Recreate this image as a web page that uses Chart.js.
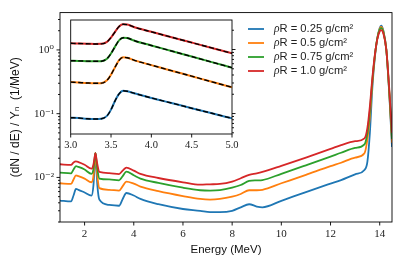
<!DOCTYPE html>
<html><head><meta charset="utf-8">
<script src="https://cdn.jsdelivr.net/npm/chart.js@4"></script>
<style>
html,body{margin:0;padding:0;background:#fff;}
#wrap{position:relative;width:403px;height:269px;overflow:hidden;}
#main{position:absolute;left:0;top:0;width:403px;height:269px;}
#inset{position:absolute;left:50px;top:10px;width:205px;height:145px;}
</style></head><body>
<div id="wrap"><canvas id="main" width="403" height="269"></canvas><canvas id="inset" width="205" height="145"></canvas></div>
<script>
// ---------- main data ----------
const energy = [1.0,1.45,1.55,1.65,1.75,2.0,2.28,2.36,2.41,2.44,2.47,2.52,2.6,3.0,3.4,3.55,3.7,4.0,4.27,5.0,6.0,6.7,7.1,7.5,8.0,8.35,8.69,9.0,9.23,10,11,12,12.43,13.0,13.38,13.5,13.6,13.7,13.8,13.9,14.0,14.06,14.15,14.27,14.4,14.5,14.6];
const rho025 = [0.00434,0.0042,0.0052,0.0066,0.0064,0.0058,0.0052,0.0075,0.016,0.024,0.016,0.0075,0.0045,0.0037,0.0036,0.0046,0.0057,0.0052,0.0046,0.0038,0.0032,0.0030,0.00286,0.00286,0.0030,0.0034,0.0038,0.0035,0.0034,0.0043,0.0059,0.0080,0.0091,0.0112,0.0131,0.0177,0.05,0.25,0.75,1.5,2.2,2.41,2.0,1.0,0.17,0.03,0.004];
const rho05 = [0.0081,0.0079,0.0093,0.0108,0.0105,0.0096,0.0084,0.0105,0.018,0.024,0.018,0.0105,0.0068,0.0064,0.0062,0.0073,0.0086,0.0080,0.0072,0.0061,0.0051,0.0046,0.0045,0.0046,0.0050,0.0055,0.0063,0.0063,0.0064,0.0081,0.0110,0.0150,0.0170,0.0205,0.0239,0.04,0.09,0.30,0.78,1.5,2.15,2.3,1.95,1.0,0.18,0.035,0.006];
const rho075 = [0.0119,0.0116,0.0133,0.0150,0.0146,0.0133,0.0114,0.0135,0.020,0.024,0.020,0.0135,0.0096,0.0093,0.0090,0.0105,0.0123,0.0108,0.0096,0.0082,0.0069,0.0063,0.0062,0.0063,0.0069,0.0076,0.0088,0.0090,0.0091,0.0114,0.0155,0.0212,0.0244,0.029,0.033,0.05,0.11,0.33,0.8,1.5,2.08,2.2,1.9,1.0,0.19,0.04,0.008];
const rho10 = [0.0161,0.0157,0.0172,0.0178,0.0174,0.0158,0.0137,0.0160,0.021,0.024,0.021,0.016,0.0122,0.0117,0.0113,0.0128,0.0143,0.0128,0.0114,0.0098,0.0084,0.0077,0.0078,0.0079,0.0086,0.0097,0.0110,0.0116,0.0122,0.0152,0.0205,0.0280,0.0322,0.037,0.041,0.06,0.13,0.36,0.82,1.45,1.95,2.05,1.8,1.0,0.21,0.05,0.01];

// ---------- inset data ----------
const insetEnergy = [3.0,3.1,3.2,3.3,3.38,3.45,3.5,3.55,3.6,3.65,3.7,3.8,4.0,4.25,4.5,4.75,5.0];
const inset025 = [0.086,0.085,0.083,0.082,0.083,0.092,0.115,0.158,0.203,0.227,0.223,0.205,0.175,0.146,0.121,0.101,0.084];
const inset05 = [0.31,0.305,0.30,0.297,0.298,0.33,0.405,0.53,0.68,0.755,0.745,0.67,0.571,0.467,0.383,0.313,0.257];
const inset075 = [0.668,0.664,0.658,0.655,0.657,0.718,0.867,1.11,1.39,1.53,1.51,1.36,1.157,0.948,0.777,0.636,0.52];
const inset10 = [1.25,1.24,1.23,1.22,1.225,1.318,1.54,1.89,2.29,2.48,2.45,2.21,1.89,1.557,1.284,1.058,0.87];

// ---------- labels / ticks ----------
const seriesLabels = ['ρR = 0.25 g/cm²','ρR = 0.5 g/cm²','ρR = 0.75 g/cm²','ρR = 1.0 g/cm²'];
const seriesColors = ['#1f77b4','#ff7f0e','#2ca02c','#d62728'];
const xTicks = [2,4,6,8,10,12,14];
const yMajorTicks = [0.01,0.1,1];
const yMajorLabels = ['10⁻²','10⁻¹','10⁰'];
const yMinorTicks = [0.002,0.003,0.004,0.005,0.006,0.007,0.008,0.009,0.02,0.03,0.04,0.05,0.06,0.07,0.08,0.09,0.2,0.3,0.4,0.5,0.6,0.7,0.8,0.9,2,3];
const insetXTicks = [3.0,3.5,4.0,4.5,5.0];
const insetYMajor = [0.1,1];
const insetYMinor = [0.05,0.06,0.07,0.08,0.09,0.2,0.3,0.4,0.5,0.6,0.7,0.8,0.9,2];

const SERIF = '"Liberation Serif","DejaVu Serif",serif';
const SANS = '"Liberation Sans","DejaVu Sans",sans-serif';

function pts(xs, ys){ return xs.map((x,i)=>({x:x, y:ys[i]})); }

function frameAndTicks(opts){
  return {
    id:'frameTicks',
    beforeDraw(chart){
      if(opts.fillArea){
        const a=chart.chartArea, c=chart.ctx;
        c.save(); c.fillStyle='#fff'; c.fillRect(a.left,a.top,a.width,a.height); c.restore();
      }
    },
    afterDraw(chart){
      const c=chart.ctx, a=chart.chartArea, xs=chart.scales.x, ys=chart.scales.y;
      c.save();
      c.strokeStyle='#000'; c.lineWidth=0.9;
      c.beginPath();
      opts.xTicks.forEach(v=>{ const p=xs.getPixelForValue(v); c.moveTo(p,a.bottom); c.lineTo(p,a.bottom+3.5); });
      const side = opts.ySide;
      const drawY=(v,len)=>{ const p=ys.getPixelForValue(v);
        if(side==='left'){ c.moveTo(a.left,p); c.lineTo(a.left-len,p);} else { c.moveTo(a.right,p); c.lineTo(a.right+len,p);} };
      opts.yMajor.forEach(v=>drawY(v,3.5));
      opts.yMinor.forEach(v=>drawY(v,2));
      c.stroke();
      c.strokeRect(a.left,a.top,a.width,a.height);
      c.restore();
      if(opts.legend){
        c.save();
        seriesLabels.forEach((lab,i)=>{
          const y = 29 + i*14;
          c.strokeStyle=seriesColors[i]; c.lineWidth=1.8;
          c.beginPath(); c.moveTo(248,y); c.lineTo(264,y); c.stroke();
          c.fillStyle='#222'; c.textBaseline='middle';
          c.font='italic 11.5px '+SERIF;
          c.fillText(lab.charAt(0),274,y);
          const w=c.measureText(lab.charAt(0)).width;
          c.font='11.2px '+SANS;
          c.fillText(lab.slice(1),274+w,y);
        });
        c.restore();
      }
    }
  };
}

const mainDatasets = [rho025,rho05,rho075,rho10].map((vals,i)=>({
  label: seriesLabels[i], data: pts(energy, vals), borderColor: seriesColors[i],
  backgroundColor: seriesColors[i], borderWidth:1.8, pointRadius:0, fill:false,
  cubicInterpolationMode:'monotone', clip:0, order: 3-i
}));

new Chart(document.getElementById('main'), {
  type:'line',
  data:{datasets: mainDatasets},
  options:{
    responsive:false, animation:false, devicePixelRatio:1,
    layout:{padding:{left:0,right:11,top:12,bottom:0}},
    plugins:{legend:{display:false}, tooltip:{enabled:false}},
    scales:{
      x:{type:'linear', min:1, max:14.5,
        afterBuildTicks:s=>{ s.ticks = xTicks.map(v=>({value:v})); },
        afterFit:s=>{ s.height=47; },
        grid:{display:true, drawOnChartArea:false, drawTicks:false},
        border:{display:false},
        ticks:{autoSkip:false, maxRotation:0, padding:6, color:'#222', font:{family:SERIF,size:11}, callback:v=>String(v)},
        title:{display:true, text:'Energy (MeV)', color:'#111', font:{family:SANS,size:11.5}, padding:{top:0,bottom:12}}
      },
      y:{type:'logarithmic', min:0.002, max:3.85,
        afterBuildTicks:s=>{ s.ticks = yMinorTicks.concat(yMajorTicks).sort((a,b)=>a-b).map(v=>({value:v})); },
        afterFit:s=>{ s.width=60; },
        grid:{display:true, drawOnChartArea:false, drawTicks:false},
        border:{display:false},
        ticks:{autoSkip:false, padding:6, color:'#222', font:{family:SERIF,size:11},
          callback:v=>{ const k=yMajorTicks.findIndex(m=>Math.abs(m-v)/m<1e-6); return k>=0?yMajorLabels[k]:''; }},
        title:{display:true, text:'(dN / dE) / Yₙ  (1/MeV)', color:'#111', font:{family:SANS,size:12}, padding:{top:8,bottom:0}}
      }
    }
  },
  plugins:[frameAndTicks({xTicks:xTicks, yMajor:yMajorTicks, yMinor:yMinorTicks, ySide:'left', legend:true})]
});

const insetSeries=[inset025,inset05,inset075,inset10];
const insetDatasets = insetSeries.map((vals,i)=>({
  data: pts(insetEnergy, vals), borderColor: seriesColors[i], borderWidth:2,
  pointRadius:0, fill:false, cubicInterpolationMode:'monotone', clip:0, order: 10-i
})).concat(insetSeries.map((vals,i)=>({
  data: pts(insetEnergy, vals), borderColor:'#000', borderWidth:1.4, borderDash:[5,2.5],
  pointRadius:0, fill:false, cubicInterpolationMode:'monotone', clip:0, order: 4-i
})));

new Chart(document.getElementById('inset'), {
  type:'line',
  data:{datasets: insetDatasets},
  options:{
    responsive:false, animation:false, devicePixelRatio:1,
    layout:{padding:{left:20.7,right:10,top:10,bottom:0}},
    plugins:{legend:{display:false}, tooltip:{enabled:false}},
    scales:{
      x:{type:'linear', min:3, max:5,
        afterBuildTicks:s=>{ s.ticks = insetXTicks.map(v=>({value:v})); },
        afterFit:s=>{ s.height=21; },
        grid:{display:true, drawOnChartArea:false, drawTicks:false},
        border:{display:false},
        ticks:{autoSkip:false, maxRotation:0, padding:5, color:'#222', font:{family:SERIF,size:10.5}, callback:v=>Number(v).toFixed(1)}
      },
      y:{type:'logarithmic', position:'right', min:0.0479, max:2.89,
        afterFit:s=>{ s.width=13; },
        grid:{display:false}, border:{display:false},
        ticks:{display:false}
      }
    }
  },
  plugins:[frameAndTicks({xTicks:insetXTicks, yMajor:insetYMajor, yMinor:insetYMinor, ySide:'right', legend:false, fillArea:true})]
});
</script>
</body></html>
